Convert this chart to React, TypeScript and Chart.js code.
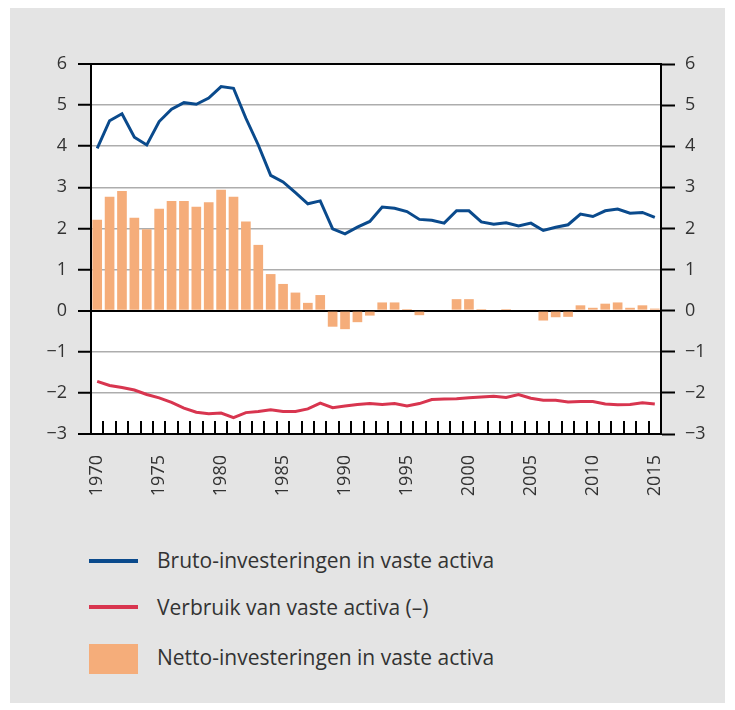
import React, { useEffect, useRef } from "react";
import { Chart, registerables } from "chart.js";

Chart.register(...registerables);

const years: string[] = [];
for (let y = 1970; y <= 2015; y++) years.push(String(y));

const bruto = [
  3.95, 4.62, 4.79, 4.22, 4.03, 4.6, 4.9, 5.06, 5.02, 5.17,
  5.45, 5.41, 4.68, 4.03, 3.29, 3.13, 2.87, 2.6, 2.67, 1.99,
  1.87, 2.03, 2.17, 2.52, 2.49, 2.41, 2.22, 2.2, 2.13, 2.43,
  2.43, 2.16, 2.1, 2.14, 2.06, 2.13, 1.95, 2.03, 2.09, 2.35,
  2.29, 2.43, 2.47, 2.37, 2.39, 2.27,
];

const verbruik = [
  -1.72, -1.82, -1.87, -1.93, -2.04, -2.12, -2.23, -2.37, -2.47, -2.51,
  -2.49, -2.6, -2.48, -2.45, -2.41, -2.45, -2.45, -2.39, -2.25, -2.36,
  -2.32, -2.28, -2.26, -2.28, -2.26, -2.32, -2.26, -2.16, -2.15, -2.14,
  -2.12, -2.1, -2.08, -2.11, -2.04, -2.13, -2.18, -2.18, -2.22, -2.21,
  -2.21, -2.27, -2.29, -2.28, -2.24, -2.27,
];

const netto = [
  2.21, 2.77, 2.91, 2.26, 1.98, 2.48, 2.67, 2.67, 2.53, 2.64,
  2.94, 2.77, 2.17, 1.6, 0.89, 0.65, 0.44, 0.19, 0.38, -0.39,
  -0.45, -0.28, -0.12, 0.2, 0.2, 0.04, -0.11, 0, 0, 0.28,
  0.28, 0.04, 0, 0.04, 0, 0, -0.24, -0.16, -0.15, 0.13,
  0.07, 0.17, 0.2, 0.07, 0.13, 0.05,
];

const legendLabels = [
  "Bruto-investeringen in vaste activa",
  "Verbruik van vaste activa (–)",
  "Netto-investeringen in vaste activa",
];

const BLUE = "#0a4a8c";
const RED = "#d8354f";
const ORANGE = "#f5ad7a";
const FONT = "'Open Sans', sans-serif";
const TEXT = "#333333";

const fmtY = (v: number | string) => {
  const n = Number(v);
  return n < 0 ? "\u2212" + Math.abs(n) : String(n);
};

export default function App() {
  const ref = useRef<HTMLCanvasElement | null>(null);

  useEffect(() => {
    if (!ref.current) return;
    const bgPlugin = {
      id: "plotbg",
      beforeDraw(chart: any) {
        const { ctx, chartArea } = chart;
        ctx.save();
        ctx.fillStyle = "#ffffff";
        ctx.fillRect(chartArea.left, chartArea.top, chartArea.right - chartArea.left, chartArea.bottom - chartArea.top);
        ctx.restore();
      },
    };
    const tickPlugin = {
      id: "innerTicks",
      afterDatasetsDraw(chart: any) {
        const { ctx, chartArea } = chart;
        const xs = chart.scales.x;
        ctx.save();
        ctx.strokeStyle = "#000";
        ctx.lineWidth = 2;
        for (let k = 1; k < years.length; k++) {
          const px = (xs.getPixelForValue(k - 1) + xs.getPixelForValue(k)) / 2;
          const x = Math.round(px);
          ctx.beginPath();
          ctx.moveTo(x, chartArea.bottom - 13);
          ctx.lineTo(x, chartArea.bottom);
          ctx.stroke();
        }
        ctx.restore();
      },
    };
    const chart = new Chart(ref.current, {
      type: "bar",
      data: {
        labels: years,
        datasets: [
          {
            type: "line",
            label: legendLabels[0],
            data: bruto,
            borderColor: BLUE,
            borderWidth: 3,
            pointRadius: 0,
            tension: 0,
            order: 1,
          } as any,
          {
            type: "line",
            label: legendLabels[1],
            data: verbruik,
            borderColor: RED,
            borderWidth: 3,
            pointRadius: 0,
            tension: 0,
            order: 2,
          } as any,
          {
            type: "bar",
            label: legendLabels[2],
            data: netto,
            backgroundColor: ORANGE,
            barPercentage: 0.78,
            categoryPercentage: 1,
            order: 3,
          },
        ],
      },
      options: {
        animation: false,
        responsive: false,
        devicePixelRatio: 1,
        layout: { padding: { top: 64, left: 0, right: 0, bottom: 0 } },
        plugins: { legend: { display: false }, tooltip: { enabled: false } },
        scales: {
          x: {
            offset: true,
            grid: { display: false, drawTicks: false },
            border: { display: true, color: "#000", width: 2 },
            ticks: {
              autoSkip: false,
              maxRotation: 90,
              minRotation: 90,
              padding: 21,
              color: TEXT,
              font: { family: FONT, size: 18 },
              callback: (_v: any, i: number) => (Number(years[i]) % 5 === 0 ? years[i] : ""),
            },
            afterFit: (s: any) => {
              s.height = 530 - 434;
            },
          },
          y: {
            position: "left",
            min: -3,
            max: 6,
            grid: {
              color: (c: any) => (c.tick && (c.tick.value === 0 || c.tick.value === 6 || c.tick.value === -3) ? "#000" : "#adadad"),
              lineWidth: (c: any) => (c.tick && (c.tick.value === 0 || c.tick.value === 6 || c.tick.value === -3) ? 2 : 1.5),
              tickColor: "#000",
              tickLength: 13,
              tickWidth: 2,
            },
            border: { display: true, color: "#000", width: 2 },
            ticks: {
              stepSize: 1,
              padding: 11,
              color: TEXT,
              font: { family: FONT, size: 18 },
              callback: (v: any) => fmtY(v),
            },
            afterFit: (s: any) => {
              s.width = 91;
            },
          },
          y2: {
            position: "right",
            min: -3,
            max: 6,
            grid: {
              drawOnChartArea: false,
              color: "#000",
              tickColor: "#000",
              tickLength: 14,
              tickWidth: 2,
            },
            border: { display: true, color: "#000", width: 2 },
            ticks: {
              stepSize: 1,
              padding: 10,
              color: TEXT,
              font: { family: FONT, size: 18 },
              callback: (v: any) => fmtY(v),
            },
            afterFit: (s: any) => {
              s.width = 735 - 661;
            },
          },
        },
      },
      plugins: [bgPlugin, tickPlugin],
    } as any);
    return () => chart.destroy();
  }, []);

  const legendText: React.CSSProperties = {
    position: "absolute",
    left: 157,
    fontFamily: FONT,
    fontSize: 21,
    color: TEXT,
    whiteSpace: "nowrap",
    lineHeight: "30px",
  };

  return (
    <div style={{ position: "absolute", left: 0, top: 0, width: 735, height: 710, background: "#ffffff", overflow: "hidden" }}>
      <div style={{ position: "absolute", left: 10, top: 8, width: 715, height: 695, background: "#e4e4e4" }} />
      <canvas ref={ref} width={735} height={530} style={{ position: "absolute", left: 0, top: 0, width: 735, height: 530 }} />
      <div style={{ position: "absolute", left: 89, top: 559, width: 49, height: 4, background: BLUE }} />
      <div style={{ ...legendText, top: 545 }}>{legendLabels[0]}</div>
      <div style={{ position: "absolute", left: 89, top: 605, width: 49, height: 4, background: RED }} />
      <div style={{ ...legendText, top: 592 }}>{legendLabels[1]}</div>
      <div style={{ position: "absolute", left: 89, top: 644, width: 49, height: 30, background: ORANGE }} />
      <div style={{ ...legendText, top: 642 }}>{legendLabels[2]}</div>
    </div>
  );
}
